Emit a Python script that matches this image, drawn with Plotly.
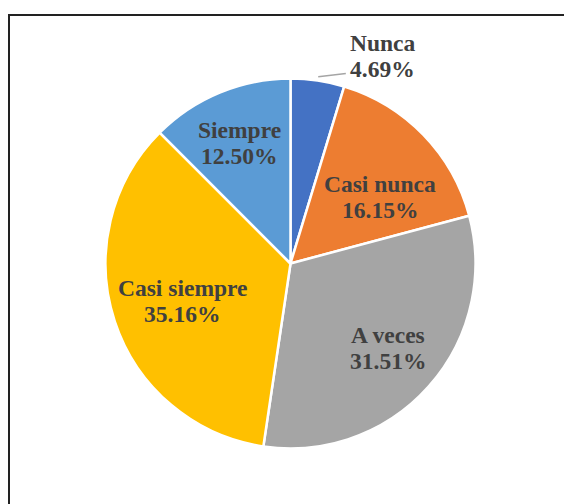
import math
import plotly.graph_objects as go

# Data
categories = ["Nunca", "Casi nunca", "A veces", "Casi siempre", "Siempre"]
percentages = [4.69, 16.15, 31.51, 35.16, 12.50]
colors = ["#4472C4", "#ED7D31", "#A5A5A5", "#FFC000", "#5B9BD5"]

W, H = 564, 504
# pie geometry (pixels)
cx, cy, R = 290.5, 263.5, 185.0

# label placement: radial fraction and angular nudge (degrees) per slice
label_rfrac = [1.23, 0.60, 0.70, 0.62, 0.71]
label_dang = [15.5, 7.5, -0.8, -0.8, -0.5]
LINE_GAP = 26  # px between the two label lines

FONT = "Liberation Serif, Times New Roman, DejaVu Serif, serif"

fig = go.Figure()
fig.add_trace(go.Pie(
    labels=categories,
    values=percentages,
    marker=dict(colors=colors, line=dict(color="white", width=2.5)),
    sort=False,
    direction="clockwise",
    rotation=0,
    textinfo="none",
    hoverinfo="label+percent",
    showlegend=False,
    domain=dict(x=[(cx - R) / W, (cx + R) / W], y=[1 - (cy + R) / H, 1 - (cy - R) / H]),
))

total = sum(percentages)
cum = 0.0
annotations = []
shapes = []
for i, (cat, v) in enumerate(zip(categories, percentages)):
    mid = (cum + v / 2) / total * 360.0
    cum += v
    ang = math.radians(mid + label_dang[i])
    r = R * label_rfrac[i]
    px = cx + r * math.sin(ang)
    py = cy - r * math.cos(ang)
    for txt, off in ((cat, -LINE_GAP / 2), (f"{v:.2f}%", LINE_GAP / 2)):
        annotations.append(dict(
            x=px / W, y=1 - (py + off) / H, xref="paper", yref="paper",
            text=f"<b>{txt}</b>", showarrow=False,
            xanchor="center", yanchor="middle",
            font=dict(family=FONT, size=23.5, color="#404040"),
        ))
    if label_rfrac[i] > 1:
        a0 = math.radians(mid)
        sx = cx + R * 1.02 * math.sin(a0)
        sy = cy - R * 1.02 * math.cos(a0)
        ex, ey = px - 37, py + 18
        shapes.append(dict(type="line", xref="paper", yref="paper",
                           x0=sx / W, y0=1 - sy / H, x1=ex / W, y1=1 - ey / H,
                           line=dict(color="#A5A5A5", width=1.5)))

# outer frame
shapes.append(dict(type="rect", xref="paper", yref="paper",
                   x0=9 / W, y0=-0.05, x1=1.05, y1=1 - 15 / H,
                   line=dict(color="#222222", width=2), fillcolor="rgba(0,0,0,0)"))

fig.update_layout(
    width=W, height=H,
    margin=dict(l=0, r=0, t=0, b=0),
    paper_bgcolor="white",
    plot_bgcolor="white",
    font=dict(family=FONT),
    annotations=annotations,
    shapes=shapes,
)

fig.write_html(
    "out.html",
    config={"displayModeBar": False},
    post_script="document.body.style.margin='0px';document.body.style.overflow='hidden';",
)
